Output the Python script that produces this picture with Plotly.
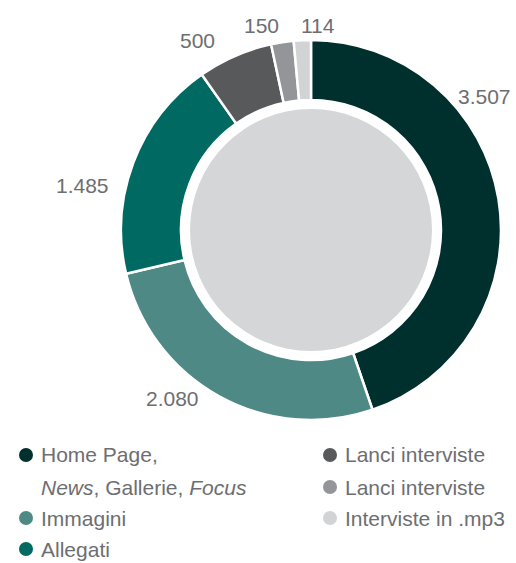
import plotly.graph_objects as go

# Contatti per sezione
categories = ["Home Page,<br><i>News</i>, Gallerie, <i>Focus</i>", "Immagini", "Allegati",
              "Lanci interviste", "Lanci interviste", "Interviste in .mp3"]
values = [3507, 2080, 1485, 500, 150, 114]
colors = ["#00302d", "#4e8985", "#006a62", "#58595b", "#939598", "#d1d3d4"]

W, H = 516, 563
CX, CY, R = 311, 230, 190          # centre and outer radius of the ring (px)
HOLE = 130 / R
DISC_R = 121                         # inner grey disc
TEXT_COLOR = "#6d6e71"
FONT = "Liberation Sans, Arial, sans-serif"


def px(x):
    return x / W


def py(y):
    return 1 - y / H


def it_num(v):
    return f"{v:,}".replace(",", ".")


fig = go.Figure()
fig.add_trace(go.Pie(
    values=values,
    labels=[str(i) for i in range(len(values))],
    marker=dict(colors=colors, line=dict(color="white", width=2.5)),
    hole=HOLE,
    sort=False,
    direction="clockwise",
    rotation=0,
    textinfo="none",
    hoverinfo="value",
    showlegend=False,
    domain=dict(x=[px(CX - R), px(CX + R)], y=[py(CY + R), py(CY - R)]),
))

shapes = [dict(type="circle", xref="paper", yref="paper",
               x0=px(CX - DISC_R), x1=px(CX + DISC_R),
               y0=py(CY + DISC_R), y1=py(CY - DISC_R),
               fillcolor="#d5d6d8", line=dict(width=0), layer="above")]

annotations = []
# value labels around the ring
label_pos = [(484, 96), (172, 398), (82, 185), (197, 40), (261, 25), (318, 25)]
for v, (lx, ly) in zip(values, label_pos):
    annotations.append(dict(x=px(lx), y=py(ly), xref="paper", yref="paper",
                            text=it_num(v), showarrow=False,
                            xanchor="center", yanchor="middle",
                            font=dict(family=FONT, size=21, color=TEXT_COLOR)))

# legend: bullet + name, two columns
legend_pos = [(26, 455, 487), (26, 518, None), (26, 549, None),
              (330, 455, None), (330, 487, None), (330, 518, None)]
BULLET_R = 7
for name, col, (bx, by, by2) in zip(categories, colors, legend_pos):
    shapes.append(dict(type="circle", xref="paper", yref="paper",
                       x0=px(bx - BULLET_R), x1=px(bx + BULLET_R),
                       y0=py(by + BULLET_R), y1=py(by - BULLET_R),
                       fillcolor=col, line=dict(width=0)))
    lines = name.split("<br>")
    for k, line in enumerate(lines):
        ty = by if k == 0 else by2
        annotations.append(dict(x=px(bx + 13), y=py(ty), xref="paper", yref="paper",
                                text=line, showarrow=False,
                                xanchor="left", yanchor="middle",
                                font=dict(family=FONT, size=21, color=TEXT_COLOR)))

fig.update_layout(
    width=W, height=H,
    margin=dict(l=0, r=0, t=0, b=0),
    paper_bgcolor="white", plot_bgcolor="white",
    shapes=shapes, annotations=annotations,
)

fig.write_html("out.html")
